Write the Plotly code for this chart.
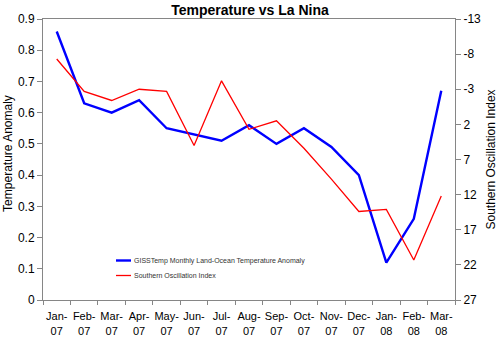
import plotly.graph_objects as go

# Monthly values, Jan 2007 - Mar 2008
months = ["Jan-07", "Feb-07", "Mar-07", "Apr-07", "May-07", "Jun-07", "Jul-07",
          "Aug-07", "Sep-07", "Oct-07", "Nov-07", "Dec-07", "Jan-08", "Feb-08", "Mar-08"]
month_labels = [m.replace("-", "-<br>") for m in months]
temp_anomaly = [0.86, 0.63, 0.60, 0.64, 0.55, 0.53, 0.51, 0.56, 0.50, 0.55, 0.49, 0.40, 0.12, 0.26, 0.67]
soi = [-7.3, -2.7, -1.4, -3.0, -2.7, 5.0, -4.2, 2.7, 1.5, 5.4, 9.8, 14.4, 14.1, 21.3, 12.2]

temp_name = "GISSTemp Monthly Land-Ocean Temperature Anomaly"
soi_name = "Southern Oscillation Index"
temp_ticks = [round(0.1 * i, 1) for i in range(10)]
soi_ticks = [-13, -8, -3, 2, 7, 12, 17, 22, 27]

BLUE = "#0000ff"
RED = "#ff0000"
AXIS = "#868686"
FONT = "Liberation Sans, Arial, sans-serif"

fig = go.Figure()
fig.add_trace(go.Scatter(x=months, y=temp_anomaly, name=temp_name, mode="lines",
                         line=dict(color=BLUE, width=2.4), yaxis="y", showlegend=False))
fig.add_trace(go.Scatter(x=months, y=soi, name=soi_name, mode="lines",
                         line=dict(color=RED, width=1.3), yaxis="y2", showlegend=False))

fig.update_layout(
    width=500, height=339,
    margin=dict(l=43, r=45, t=19, b=39),
    paper_bgcolor="white", plot_bgcolor="white",
    font=dict(family=FONT, size=12, color="#000000"),
    title=dict(text="<b>Temperature vs La Nina</b>", x=0.5, xanchor="center",
               y=1 - 10 / 339, yanchor="middle", yref="container",
               font=dict(size=14, color="#000000")),
    xaxis=dict(
        type="category", categoryorder="array", categoryarray=months,
        tickmode="array", tickvals=months, ticktext=month_labels,
        range=[-0.5, len(months) - 0.5], tickson="boundaries",
        showline=True, linecolor=AXIS, linewidth=1, mirror=True,
        ticks="outside", ticklen=4, tickcolor=AXIS, tickwidth=1,
        showgrid=False, zeroline=False, ticklabelstandoff=6, tickangle=0,
        tickfont=dict(size=11), automargin=False,
    ),
    yaxis=dict(
        range=[0, 0.9], tickmode="array", tickvals=temp_ticks,
        ticktext=[("0" if v == 0 else f"{v:.1f}") for v in temp_ticks],
        showline=True, linecolor=AXIS, linewidth=1,
        ticks="outside", ticklen=5, tickcolor=AXIS, tickwidth=1,
        showgrid=False, zeroline=False, tickfont=dict(size=12), automargin=False,
    ),
    yaxis2=dict(
        overlaying="y", side="right", range=[27, -13], autorange=False,
        tickmode="array", tickvals=soi_ticks, ticktext=[str(v) for v in soi_ticks],
        showline=True, linecolor=AXIS, linewidth=1,
        ticks="outside", ticklen=5, tickcolor=AXIS, tickwidth=1,
        showgrid=False, zeroline=False, tickfont=dict(size=12), automargin=False,
    ),
)

# Axis titles
fig.add_annotation(text="Temperature Anomaly", xref="paper", yref="paper",
                   x=-35 / 412, y=0.52, textangle=-90, showarrow=False,
                   xanchor="center", yanchor="middle", font=dict(size=12))
fig.add_annotation(text=soi_name, xref="paper", yref="paper",
                   x=1 + 35 / 412, y=0.5, textangle=-90, showarrow=False,
                   xanchor="center", yanchor="middle", font=dict(size=12))

# Legend box inside the plot area
legend_items = [(temp_name, BLUE, 2.4), (soi_name, RED, 1.3)]
lx0, lx1 = 116, 131
for i, (label, color, w) in enumerate(legend_items):
    ypix = 260.5 + 15 * i
    yp = (300 - ypix) / 281
    fig.add_shape(type="line", xref="paper", yref="paper",
                  x0=(lx0 - 43) / 412, x1=(lx1 - 43) / 412, y0=yp, y1=yp,
                  line=dict(color=color, width=w))
    fig.add_annotation(text=label, xref="paper", yref="paper",
                       x=(lx1 + 1 - 43) / 412, y=yp, showarrow=False,
                       xanchor="left", yanchor="middle",
                       font=dict(size=7, color="#333333"))

fig.write_html("out.html")
